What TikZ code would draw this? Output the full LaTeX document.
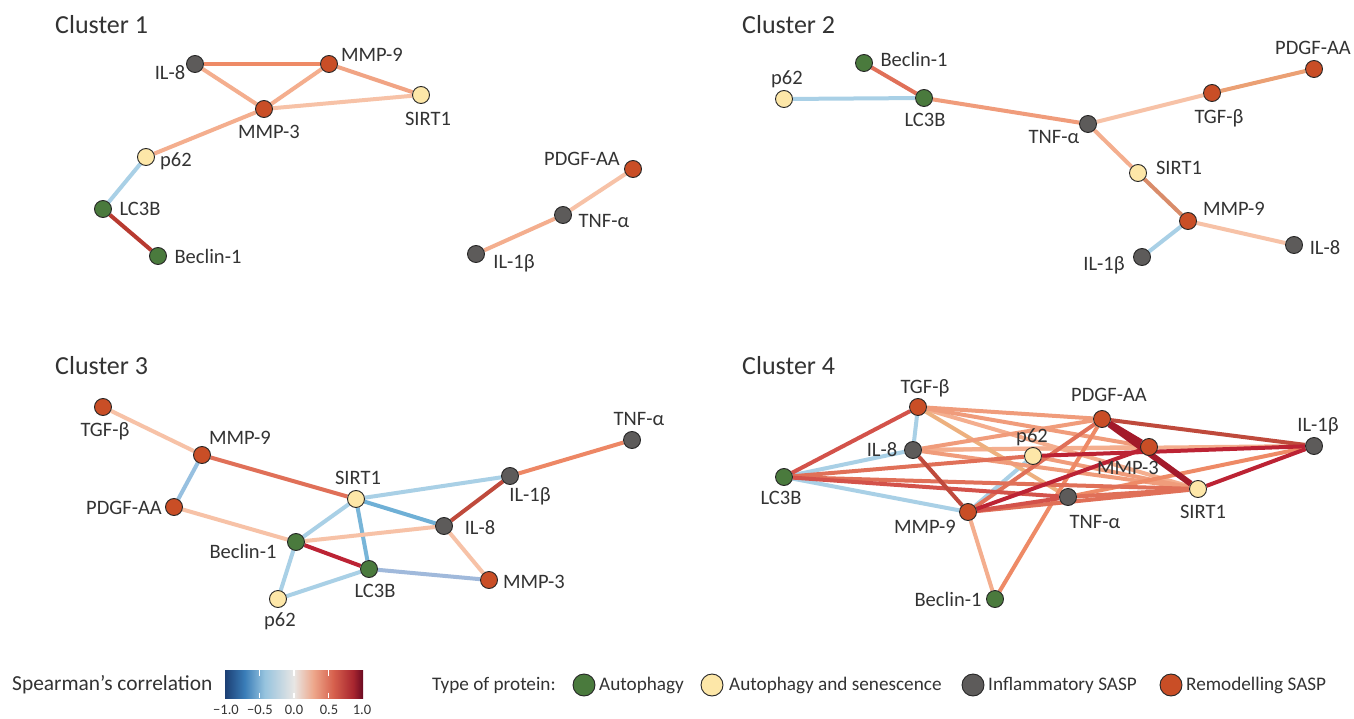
\documentclass[tikz,border=0pt]{standalone}
\usepackage{fontspec}
\setmainfont{Carlito}
\usetikzlibrary{backgrounds}
\definecolor{autoph}{HTML}{4A7A3D}
\definecolor{senes}{HTML}{FDE7A8}
\definecolor{infl}{HTML}{5D5B5A}
\definecolor{remod}{HTML}{C94E26}
\definecolor{txt}{HTML}{333333}
\definecolor{eLB}{HTML}{A9D0E6}
\definecolor{eB}{HTML}{6FB0D6}
\definecolor{eGB}{HTML}{A0B9DB}
\definecolor{eMB}{HTML}{97C0E0}
\definecolor{eP1}{HTML}{F7C2A7}
\definecolor{eP2}{HTML}{F4AE8E}
\definecolor{eS}{HTML}{F09C7B}
\definecolor{eO}{HTML}{EE8A66}
\definecolor{eR1}{HTML}{E07058}
\definecolor{eR2}{HTML}{D3524A}
\definecolor{eBR}{HTML}{BF4A3C}
\definecolor{eC}{HTML}{BC2334}
\definecolor{eDC}{HTML}{A31A2A}
\definecolor{eTan}{HTML}{EDB07E}
\definecolor{eTB}{HTML}{D98C6A}
\definecolor{eTO}{HTML}{EBA074}
\definecolor{eDR}{HTML}{B83A30}
\definecolor{cb0}{HTML}{1C3F74}
\definecolor{cb1}{HTML}{3A7DB8}
\definecolor{cb2}{HTML}{96C3DE}
\definecolor{cb3}{HTML}{E8E6E4}
\definecolor{cb4}{HTML}{EDA68A}
\definecolor{cb5}{HTML}{D6604D}
\definecolor{cb6}{HTML}{A8262F}
\definecolor{cb7}{HTML}{6A0A22}
\pgfdeclarehorizontalshading{rdbu}{100bp}{color(0bp)=(cb0); color(25bp)=(cb0); color(32.14bp)=(cb1); color(39.29bp)=(cb2); color(50bp)=(cb3); color(57.14bp)=(cb4); color(64.29bp)=(cb5); color(71.43bp)=(cb6); color(75bp)=(cb7); color(100bp)=(cb7)}
\tikzset{
  prot/.style={circle, draw=black!85, line width=0.9, minimum size=17, inner sep=0},
  pau/.style={prot, fill=autoph},
  pse/.style={prot, fill=senes},
  pin/.style={prot, fill=infl},
  pre/.style={prot, fill=remod},
  lab/.style={font=\fontsize{20.5}{22}\selectfont, text=txt, inner sep=0, text height=13.3, text depth=0},
  ttl/.style={font=\fontsize{26}{28}\selectfont, text=txt, inner sep=0, anchor=west, text height=17, text depth=0},
  leg/.style={font=\fontsize{19.2}{21}\selectfont, text=txt, inner sep=0, anchor=west, text height=12.5, text depth=0},
  ticklab/.style={font=\fontsize{14.5}{16}\selectfont, text=txt, inner sep=0, text height=9.5, text depth=0},
  ed/.style={line width=4},
  edt/.style={line width=6},
  legc/.style={circle, draw=black!85, line width=0.9, minimum width=21, minimum height=22, inner sep=0},
}
\begin{document}
\begin{tikzpicture}[x=1pt,y=-1pt]
\begin{pgfonlayer}{background}
\fill[white] (0,0) rectangle (1354,719);
\end{pgfonlayer}
\useasboundingbox (0,0) rectangle (1354,719);

% ---------------- titles
\node[ttl] (t1) at (55,25) {Cluster 1};
\node[ttl] (t2) at (742,25) {Cluster 2};
\node[ttl] (t3) at (55,366) {Cluster 3};
\node[ttl] (t4) at (742,366) {Cluster 4};

% ---------------- Cluster 1
\node[pin] (c1il8) at (195,64) {};
\node[pre] (c1mmp9) at (329,64) {};
\node[pse] (c1sirt) at (421,95) {};
\node[pre] (c1mmp3) at (264,109) {};
\node[pse] (c1p62) at (146,157) {};
\node[pau] (c1lc3b) at (103,209) {};
\node[pau] (c1bec) at (158,256) {};
\node[pre] (c1pdgf) at (633,169) {};
\node[pin] (c1tnf) at (563,215) {};
\node[pin] (c1il1b) at (476,254) {};
\node[lab] (c1il8t) at (170,73) {IL-8};
\node[lab] (c1mmp9t) at (372,55) {MMP-9};
\node[lab] (c1sirtt) at (428,119) {SIRT1};
\node[lab] (c1mmp3t) at (269,132) {MMP-3};
\node[lab] (c1p62t) at (176,160) {p62};
\node[lab] (c1lc3bt) at (140,209) {LC3B};
\node[lab] (c1bect) at (208,257) {Beclin-1};
\node[lab] (c1pdgft) at (582,159) {PDGF-AA};
\node[lab] (c1tnft) at (604,221) {TNF-α};
\node[lab] (c1il1bt) at (514,262) {IL-1β};

% ---------------- Cluster 2
\node[pau] (c2bec) at (864,63) {};
\node[pse] (c2p62) at (784,99) {};
\node[pau] (c2lc3b) at (924,98) {};
\node[pin] (c2tnf) at (1088,124) {};
\node[pre] (c2tgf) at (1212,93) {};
\node[pre] (c2pdgf) at (1314,69) {};
\node[pse] (c2sirt) at (1138,173) {};
\node[pre] (c2mmp9) at (1188,221) {};
\node[pin] (c2il8) at (1294,245) {};
\node[pin] (c2il1b) at (1142,257) {};
\node[lab] (c2bect) at (914,60) {Beclin-1};
\node[lab] (c2p62t) at (787,78) {p62};
\node[lab] (c2lc3bt) at (925,120) {LC3B};
\node[lab] (c2tnft) at (1054,137) {TNF-α};
\node[lab] (c2tgft) at (1219,117) {TGF-β};
\node[lab] (c2pdgft) at (1313,48) {PDGF-AA};
\node[lab] (c2sirtt) at (1179,168) {SIRT1};
\node[lab] (c2mmp9t) at (1234,209) {MMP-9};
\node[lab] (c2il8t) at (1325,248) {IL-8};
\node[lab] (c2il1bt) at (1104,264) {IL-1β};

% ---------------- Cluster 3
\node[pre] (c3tgf) at (103,407) {};
\node[pre] (c3mmp9) at (202,455) {};
\node[pre] (c3pdgf) at (174,507) {};
\node[pse] (c3sirt) at (356,499) {};
\node[pau] (c3bec) at (296,542) {};
\node[pau] (c3lc3b) at (369,569) {};
\node[pse] (c3p62) at (278,599) {};
\node[pin] (c3il8) at (444,526) {};
\node[pin] (c3il1b) at (510,476) {};
\node[pin] (c3tnf) at (632,440) {};
\node[pre] (c3mmp3) at (489,580) {};
\node[lab] (c3tgft) at (105,430) {TGF-β};
\node[lab] (c3mmp9t) at (240,438) {MMP-9};
\node[lab] (c3pdgft) at (124,508) {PDGF-AA};
\node[lab] (c3sirtt) at (358,478) {SIRT1};
\node[lab] (c3bect) at (243,552) {Beclin-1};
\node[lab] (c3lc3bt) at (375,591) {LC3B};
\node[lab] (c3p62t) at (280,620) {p62};
\node[lab] (c3il8t) at (480,528) {IL-8};
\node[lab] (c3il1bt) at (530,495) {IL-1β};
\node[lab] (c3tnft) at (639,419) {TNF-α};
\node[lab] (c3mmp3t) at (534,582) {MMP-3};

% ---------------- Cluster 4
\node[pre] (c4tgf) at (918,407) {};
\node[pre] (c4pdgf) at (1102,419) {};
\node[pin] (c4il1b) at (1314,446) {};
\node[pin] (c4il8) at (913,450) {};
\node[pse] (c4p62) at (1033,456) {};
\node[pre] (c4mmp3) at (1149,447) {};
\node[pau] (c4lc3b) at (784,477) {};
\node[pre] (c4mmp9) at (968,512) {};
\node[pin] (c4tnf) at (1068,497) {};
\node[pse] (c4sirt) at (1198,489) {};
\node[pau] (c4bec) at (995,599) {};
\node[lab] (c4tgft) at (925,387) {TGF-β};
\node[lab] (c4pdgft) at (1109,395) {PDGF-AA};
\node[lab] (c4il1bt) at (1318,425) {IL-1β};
\node[lab] (c4il8t) at (882,450) {IL-8};
\node[lab] (c4p62t) at (1032,436) {p62};
\node[lab] (c4mmp3t) at (1128,468) {MMP-3};
\node[lab] (c4lc3bt) at (781,498) {LC3B};
\node[lab] (c4mmp9t) at (925,527) {MMP-9};
\node[lab] (c4tnft) at (1095,522) {TNF-α};
\node[lab] (c4sirtt) at (1203,512) {SIRT1};
\node[lab] (c4bect) at (948,600) {Beclin-1};

\begin{pgfonlayer}{background}
% cluster 1 edges
\draw[ed, eO] (c1il8) -- (c1mmp9);
\draw[ed, eP2] (c1il8) -- (c1mmp3);
\draw[ed, eP2] (c1mmp9) -- (c1mmp3);
\draw[ed, eS!80!eP1] (c1mmp9) -- (c1sirt);
\draw[ed, eP1] (c1mmp3) -- (c1sirt);
\draw[ed, eP2] (c1mmp3) -- (c1p62);
\draw[ed, eLB] (c1p62) -- (c1lc3b);
\draw[ed, eDR] (c1lc3b) -- (c1bec);
\draw[ed, eP1] (c1pdgf) -- (c1tnf);
\draw[ed, eP2] (c1tnf) -- (c1il1b);
% cluster 2 edges
\draw[ed, eR1] (c2bec) -- (c2lc3b);
\draw[ed, eLB] (c2p62) -- (c2lc3b);
\draw[ed, eS] (c2lc3b) -- (c2tnf);
\draw[ed, eP1] (c2tnf) -- (c2tgf);
\draw[ed, eTO] (c2tgf) -- (c2pdgf);
\draw[ed, eP2] (c2tnf) -- (c2sirt);
\draw[ed, eTB] (c2sirt) -- (c2mmp9);
\draw[ed, eP1] (c2mmp9) -- (c2il8);
\draw[ed, eLB] (c2mmp9) -- (c2il1b);
% cluster 3 edges
\draw[ed, eP1] (c3tgf) -- (c3mmp9);
\draw[ed, eMB] (c3mmp9) -- (c3pdgf);
\draw[ed, eR1] (c3mmp9) -- (c3sirt);
\draw[ed, eP1] (c3pdgf) -- (c3bec);
\draw[ed, eLB] (c3sirt) -- (c3il1b);
\draw[ed, eB] (c3sirt) -- (c3il8);
\draw[ed, eLB] (c3sirt) -- (c3bec);
\draw[ed, eB!85!eLB] (c3sirt) -- (c3lc3b);
\draw[ed, eP1] (c3bec) -- (c3il8);
\draw[ed, eC] (c3bec) -- (c3lc3b);
\draw[ed, eLB] (c3bec) -- (c3p62);
\draw[ed, eLB] (c3p62) -- (c3lc3b);
\draw[ed, eGB] (c3lc3b) -- (c3mmp3);
\draw[ed, eBR] (c3il8) -- (c3il1b);
\draw[ed, eP1] (c3il8) -- (c3mmp3);
\draw[ed, eO!90!eR1] (c3il1b) -- (c3tnf);
% cluster 4 edges
\draw[ed, eLB] (c4tgf) -- (c4il8);
\draw[ed, eLB] (c4il8) -- (c4lc3b);
\draw[ed, eLB] (c4lc3b) -- (c4mmp9);
\draw[ed, eLB] (c4p62) -- (c4mmp9);
\draw[ed, eP2] (c4il8) -- (c4il1b);
\draw[ed, eP2] (c4tgf) -- (c4sirt);
\draw[ed, eP2] (c4il8) -- (c4mmp3);
\draw[ed, eTan] (c4tgf) -- (c4tnf);
\draw[ed, eP2] (c4mmp9) -- (c4bec);
\draw[ed, eS] (c4tgf) -- (c4pdgf);
\draw[ed, eS] (c4tgf) -- (c4mmp3);
\draw[ed, eS] (c4il8) -- (c4pdgf);
\draw[ed, eS] (c4il8) -- (c4sirt);
\draw[ed, eS] (c4p62) -- (c4sirt);
\draw[ed, eO] (c4pdgf) -- (c4bec);
\draw[ed, eO] (c4tnf) -- (c4il1b);
\draw[ed, eR1] (c4lc3b) -- (c4p62);
\draw[ed, eR1] (c4lc3b) -- (c4sirt);
\draw[ed, eR1] (c4pdgf) -- (c4mmp9);
\draw[ed, eR1] (c4tnf) -- (c4sirt);
\draw[ed, eR1] (c4mmp9) -- (c4sirt);
\draw[ed, eR2] (c4tgf) -- (c4lc3b);
\draw[ed, eR2] (c4lc3b) -- (c4tnf);
\draw[ed, eR2] (c4mmp9) -- (c4tnf);
\draw[ed, eBR] (c4il8) -- (c4mmp9);
\draw[ed, eBR] (c4pdgf) -- (c4il1b);
\draw[ed, eC] (c4mmp9) -- (c4mmp3);
\draw[ed, eC] (c4p62) -- (c4il1b);
\draw[ed, eC] (c4sirt) -- (c4il1b);
\draw[edt, eDC] (c4pdgf) -- (c4mmp3);
\draw[edt, eDC] (c4pdgf) -- (c4sirt);
\end{pgfonlayer}

% ---------------- legend
\node[leg, font=\fontsize{21.4}{23}\selectfont] (lg1) at (12,684) {Spearman's correlation};
\shade[shading=rdbu] (225,670) rectangle (363,698);
\foreach \x in {259.5,294,328.5}{
  \draw[white, line width=1.2] (\x,670) -- (\x,675.5);
  \draw[white, line width=1.2] (\x,692.5) -- (\x,698);
}
\node[ticklab] (tk1) at (226,710) {−1.0};
\node[ticklab] (tk2) at (260,710) {−0.5};
\node[ticklab] (tk3) at (294,710) {0.0};
\node[ticklab] (tk4) at (329,710) {0.5};
\node[ticklab] (tk5) at (362,710) {1.0};
\node[leg] (lg2) at (432,684) {Type of protein:};
\node[legc, fill=autoph] (lc1) at (584,685) {};
\node[leg] (lt1) at (599,684) {Autophagy};
\node[legc, fill=senes] (lc2) at (712,685) {};
\node[leg] (lt2) at (729,684) {Autophagy and senescence};
\node[legc, fill=infl] (lc3) at (973,685) {};
\node[leg] (lt3) at (988,684) {Inflammatory SASP};
\node[legc, fill=remod] (lc4) at (1171,685) {};
\node[leg] (lt4) at (1186,684) {Remodelling SASP};
\end{tikzpicture}
\end{document}
